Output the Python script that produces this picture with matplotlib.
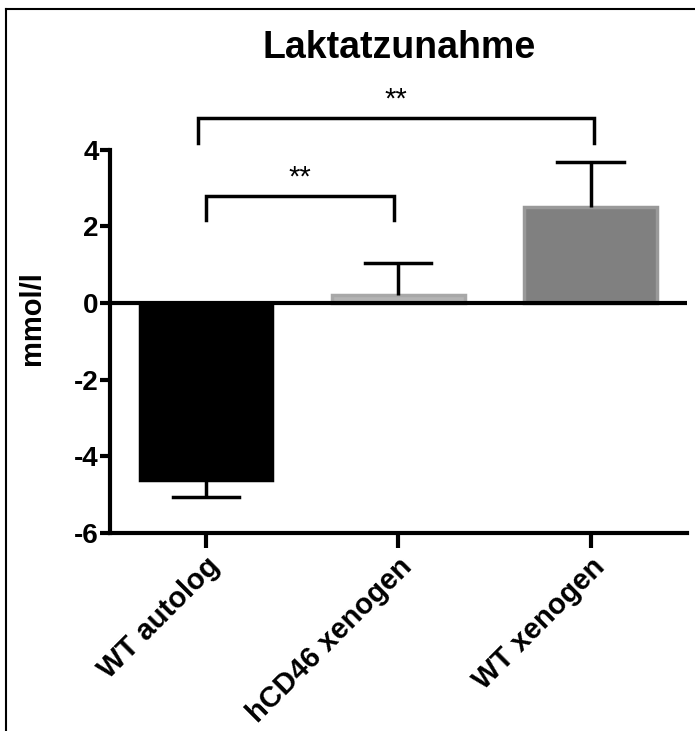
import matplotlib.pyplot as plt
from matplotlib.lines import Line2D

plt.rcParams['font.family'] = ['Liberation Sans', 'DejaVu Sans']

groups = ['WT autolog', 'hCD46 xenogen', 'WT xenogen']
means = [-4.62, 0.22, 2.52]
err_ends = [-5.06, 1.04, 3.68]
bar_colors = ['#000000', '#b4b4b4', '#808080']
edge_colors = ['#000000', '#a8a8a8', '#999999']

# significance brackets: (left x, right x, leg bottom, bar top, label)
brackets = [(0.0, 0.98, 2.17, 2.79, '**'),
            (-0.04, 2.02, 4.17, 4.83, '**')]

fig = plt.figure(figsize=(6.95, 7.31), dpi=100)
ax = fig.add_axes([0.158, 0.271, 0.830, 0.524])

x = list(range(len(groups)))
ax.bar(x, means, width=0.69, color=bar_colors, edgecolor=edge_colors,
       linewidth=2.5, zorder=2)

# one-sided error bars pointing away from zero
for xi, m, e in zip(x, means, err_ends):
    ax.plot([xi, xi], [m, e], color='black', lw=2.5, zorder=3, solid_capstyle='butt')
    ax.plot([xi - 0.172, xi + 0.172], [e, e], color='black', lw=2.5, zorder=3)

ax.axhline(0, color='black', lw=3, zorder=4)

for x0, x1, y0, y1, lab in brackets:
    ax.plot([x0, x0, x1, x1], [y0, y1, y1, y0], color='black', lw=2.5,
            clip_on=False, solid_joinstyle='miter')
    ax.text((x0 + x1) / 2, y1 + 0.12, lab, ha='center', va='bottom',
            fontsize=21, clip_on=False)

ax.set_xlim(-0.5, 2.5)
ax.set_ylim(-6, 4)
ax.set_yticks([-6, -4, -2, 0, 2, 4])
ax.set_yticklabels(['-6', '-4', '-2', '0', '2', '4'], fontsize=20, fontweight='bold')
ax.set_xticks(x)
ax.set_xticklabels(groups, rotation=45, ha='right', rotation_mode='anchor',
                   fontsize=21, fontweight='bold')
ax.tick_params(axis='y', direction='out', length=7, width=3, pad=1)
ax.tick_params(axis='x', direction='out', length=11, width=3, pad=3)
ax.spines['top'].set_visible(False)
ax.spines['right'].set_visible(False)
ax.spines['left'].set_linewidth(3)
ax.spines['bottom'].set_linewidth(3)
ax.set_ylabel('mmol/l', fontsize=21, fontweight='bold')
ax.yaxis.set_label_coords(-0.11, 0.56)

fig.text(0.575, 0.934, 'Laktatzunahme', ha='center', va='center',
         fontsize=27, fontweight='bold')

# outer frame
fig.add_artist(Line2D([0.009, 0.009], [0.0, 0.988], color='black', lw=1.5))
fig.add_artist(Line2D([0.009, 1.0], [0.988, 0.988], color='black', lw=1.5))

fig.savefig('out.png', dpi=100)
